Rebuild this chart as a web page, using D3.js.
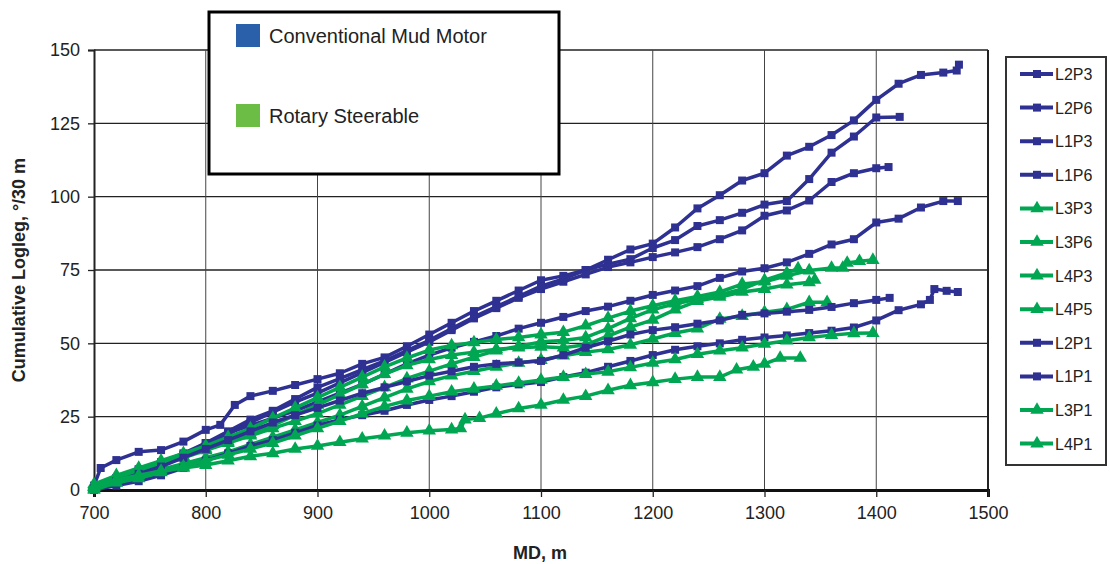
<!DOCTYPE html>
<html>
<head>
<meta charset="utf-8">
<script src="https://cdn.jsdelivr.net/npm/d3@7"></script>
<style>
  body { margin: 0; background: #fff; }
  svg text { font-family: "Liberation Sans", Arial, sans-serif; fill: #222; }
</style>
</head>
<body>
<div class="chart"></div>
<script>
// series names, in legend order
var names = ["L2P3", "L2P6", "L1P3", "L1P6", "L3P3", "L3P6", "L4P3", "L4P5", "L2P1", "L1P1", "L3P1", "L4P1"];
var kinds = ["motor", "motor", "motor", "motor", "rss", "rss", "rss", "rss", "motor", "motor", "rss", "rss"];

// values: [MD m, cumulative dogleg]
var L2P3 = [[700,1.5],[706,7.5],[720,10.2],[740,13],[760,13.6],[780,16.5],[800,20.5],[813,22.2],[826,29],[840,32],[860,33.8],[880,35.8],[900,37.8],[920,39.8],[940,43],[960,45.2],[980,49],[1000,53],[1020,57],[1040,61],[1060,64.5],[1080,68],[1100,71.5],[1120,73],[1140,75],[1160,78.5],[1180,82],[1200,84],[1220,89.5],[1240,96],[1260,100.5],[1280,105.5],[1300,108],[1320,114],[1340,117],[1360,121],[1380,126],[1400,133],[1420,138.5],[1440,141.5],[1460,142.3],[1472,143],[1474,145]];
var L2P6 = [[700,0.5],[720,4],[740,7],[760,9],[780,12],[800,16],[820,20],[840,24],[860,27],[880,31],[900,35],[920,38],[940,41],[960,44],[980,47.5],[1000,51],[1020,55],[1040,59],[1060,62.5],[1080,66],[1100,69.5],[1120,72],[1140,75],[1160,77],[1180,78.7],[1200,82.5],[1220,85.2],[1240,90],[1260,92],[1280,94.5],[1300,97.3],[1320,98.5],[1340,106],[1360,115],[1380,120.5],[1400,127],[1421,127.2]];
var L1P3 = [[700,0],[720,3],[740,6],[760,8.5],[780,11.5],[800,15],[820,19],[840,23],[860,26.5],[880,30],[900,33],[920,36.5],[940,40],[960,43.5],[980,47],[1000,50.5],[1020,54.5],[1040,58.5],[1060,62],[1080,65.5],[1100,68.5],[1120,71],[1140,73.5],[1160,76],[1180,77.6],[1200,79.4],[1220,81],[1240,82.8],[1260,85.5],[1280,88.5],[1300,93.5],[1320,95.3],[1340,98.7],[1360,105],[1380,108],[1400,109.7],[1411,110.1]];
var L1P6 = [[700,1],[720,4],[740,7],[760,9.5],[780,12.5],[800,16],[820,19.5],[840,22],[860,24.5],[880,27],[900,30],[920,33],[940,36],[960,39.5],[980,43],[1000,46],[1020,48.5],[1040,50.5],[1060,52.5],[1080,55],[1100,57],[1120,59],[1140,61],[1160,62.5],[1180,64.5],[1200,66.5],[1220,68],[1240,69.5],[1260,72.3],[1280,74.5],[1300,75.6],[1320,77.6],[1340,80.5],[1360,83.7],[1380,85.5],[1400,91.2],[1420,92.5],[1440,96.3],[1460,98.5],[1473,98.5]];
var L3P3 = [[700,2],[720,5],[740,7.5],[760,10],[780,12.5],[800,15],[820,18],[840,21],[860,24.5],[880,28],[900,31.5],[920,35],[940,38.5],[960,42],[980,45],[1000,47.7],[1020,49.3],[1040,50.3],[1060,51.3],[1080,52],[1100,53],[1120,53.8],[1140,56],[1160,58.6],[1180,61],[1200,62.8],[1220,64.5],[1240,66],[1260,67.5],[1280,70.2],[1300,71],[1320,73],[1340,74.8],[1360,75.7],[1370,75.7],[1374,77.4],[1385,78],[1397,78.4]];
var L3P6 = [[700,1],[720,4],[740,6.5],[760,9],[780,11.5],[800,14],[820,16.5],[840,19],[860,22],[880,25.5],[900,29],[920,32.5],[940,36],[960,39.5],[980,42.5],[1000,44.5],[1020,46],[1040,47],[1060,48],[1080,48.5],[1100,48.8],[1120,48.5],[1140,49.5],[1160,52.5],[1180,55.5],[1200,58],[1220,61.5],[1240,64.4],[1260,65.8],[1280,67.5],[1300,68.5],[1320,70],[1340,70.8],[1345,71.6]];
var L4P3 = [[700,1.5],[720,4.5],[740,7],[760,9],[780,11],[800,13.5],[820,16],[840,18.5],[860,21],[880,23.5],[900,26],[920,29],[940,32],[960,35],[980,38],[1000,40.5],[1020,43],[1040,45.3],[1060,47.5],[1080,49],[1100,50.5],[1120,51],[1140,52],[1160,55],[1180,58.5],[1200,61.5],[1220,63.5],[1240,65],[1260,66.5],[1280,68.5],[1300,71.5],[1320,74],[1330,75.5]];
var L4P5 = [[700,0.5],[720,2.5],[740,5],[760,7],[780,9],[800,11],[820,13],[840,15.5],[860,18],[880,20.5],[900,23],[920,25.5],[940,28.5],[960,31.5],[980,34.5],[1000,37],[1020,39],[1040,40.5],[1060,42],[1080,43.3],[1100,44.3],[1120,45.8],[1140,47],[1160,47.9],[1180,49.5],[1200,51.5],[1220,53.5],[1240,55],[1260,58.3],[1280,59.3],[1300,60.6],[1320,61.6],[1340,64],[1356,64]];
var L2P1 = [[700,0],[720,1.5],[740,3],[760,5],[780,7.5],[800,10],[820,12.5],[840,15],[860,17],[880,19.5],[900,22],[920,24],[940,25.5],[960,27],[980,29],[1000,30.7],[1020,32],[1040,33.5],[1060,35],[1080,36],[1100,36.8],[1120,38.5],[1140,40],[1160,42],[1180,44],[1200,46],[1220,47.8],[1240,49],[1260,50],[1280,51.2],[1300,52],[1320,52.7],[1340,53.5],[1360,54.3],[1380,55.4],[1400,57.8],[1420,61.3],[1440,63.3],[1448,64.8],[1452,68.5],[1463,67.9],[1473,67.5]];
var L1P1 = [[700,0.5],[720,3],[740,5.5],[760,8],[780,11],[800,14],[820,17],[840,20],[860,23],[880,25.5],[900,28],[920,30.5],[940,33],[960,35],[980,37],[1000,39],[1020,40.5],[1040,42],[1060,43],[1080,43.5],[1100,44],[1120,46],[1140,48.5],[1160,50.7],[1180,53],[1200,54.5],[1220,55.5],[1240,56.7],[1260,57.8],[1280,59.7],[1300,60.2],[1320,60.8],[1340,61.4],[1360,62.4],[1380,63.7],[1400,64.8],[1412,65.5]];
var L3P1 = [[700,0],[720,2.5],[740,4],[760,6],[780,8],[800,10],[820,12],[840,14],[860,16],[880,18.5],[900,21],[920,23.5],[940,26],[960,28.5],[980,30.5],[1000,32],[1020,33.5],[1040,34.5],[1060,35.5],[1080,36.5],[1100,37.5],[1120,38.5],[1140,39.5],[1160,40.3],[1180,41.8],[1200,43.3],[1220,44.5],[1240,46.3],[1260,47.5],[1280,48.5],[1300,49.8],[1320,50.9],[1340,52],[1360,52.8],[1380,53.4],[1397,53.5]];
var L4P1 = [[700,1],[720,3.5],[740,5],[760,6.5],[780,7.5],[800,8.5],[820,10],[840,11.5],[860,12.5],[880,14],[900,15],[920,16.3],[940,17.5],[960,18.5],[980,19.5],[1000,20.2],[1020,20.6],[1028,21],[1032,24],[1045,24.5],[1060,26],[1080,27.8],[1100,29],[1120,30.7],[1140,32],[1160,34],[1180,35.7],[1200,36.7],[1220,37.8],[1240,38.5],[1260,38.5],[1275,41],[1290,42],[1300,43],[1314,45],[1332,45]];

var seriesValues = [L2P3, L2P6, L1P3, L1P6, L3P3, L3P6, L4P3, L4P5, L2P1, L1P1, L3P1, L4P1];

var xTicks = [700, 800, 900, 1000, 1100, 1200, 1300, 1400, 1500];
var yTicks = [0, 25, 50, 75, 100, 125, 150];
var groupLabels = ["Conventional Mud Motor", "Rotary Steerable"];

var lineColor = {motor: "#2e3192", rss: "#00a651"};
var boxColor = ["#2a5faa", "#6cbd45"];

var margin = {top: 50, right: 122, bottom: 74, left: 94},
    width = 1110 - margin.left - margin.right,
    height = 564 - margin.top - margin.bottom;

var svg = d3.select(".chart").append("svg")
    .attr("width", 1110)
    .attr("height", 564);

var g = svg.append("g")
    .attr("transform", "translate(" + margin.left + "," + margin.top + ")");

var x = d3.scaleLinear().domain([700, 1500]).range([0, width]);
var y = d3.scaleLinear().domain([0, 150]).range([height, 0]);

// grid
g.selectAll(".hgrid").data(yTicks).enter().append("line")
    .attr("x1", 0).attr("x2", width)
    .attr("y1", function (d) { return y(d); })
    .attr("y2", function (d) { return y(d); })
    .attr("stroke", "#222").attr("stroke-width", 1.3);
g.selectAll(".vgrid").data(xTicks.slice(1)).enter().append("line")
    .attr("y1", 0).attr("y2", height)
    .attr("x1", function (d) { return x(d); })
    .attr("x2", function (d) { return x(d); })
    .attr("stroke", "#444").attr("stroke-width", 1);
// right border a bit darker
g.append("line").attr("x1", width).attr("x2", width).attr("y1", 0).attr("y2", height)
    .attr("stroke", "#222").attr("stroke-width", 2);

// axes
var axisX = g.append("g").attr("transform", "translate(0," + height + ")")
    .call(d3.axisBottom(x).tickValues(xTicks).tickFormat(d3.format("d")).tickSize(7).tickPadding(9));
var axisY = g.append("g")
    .call(d3.axisLeft(y).tickValues(yTicks).tickSize(6).tickPadding(8));
axisX.select(".domain").attr("stroke", "#111").attr("stroke-width", 3);
axisY.select(".domain").attr("stroke", "#222").attr("stroke-width", 2);
[axisX, axisY].forEach(function (a) {
    a.selectAll("text").style("font-size", "18px").style("font-family", "Liberation Sans, Arial, sans-serif").attr("fill", "#222");
    a.selectAll(".tick line").attr("stroke", "#222").attr("stroke-width", 1.3);
});

// lines
var valueline = d3.line()
    .x(function (d) { return x(d[0]); })
    .y(function (d) { return y(d[1]); });

var sq = d3.symbol().type(d3.symbolSquare).size(64);
var tri = d3.symbol().type(d3.symbolTriangle).size(78);

seriesValues.forEach(function (vals, i) {
    var k = kinds[i];
    var s = g.append("g").attr("class", "series " + names[i]);
    s.append("path")
        .datum(vals)
        .attr("fill", "none")
        .attr("stroke", lineColor[k])
        .attr("stroke-width", 3.5)
        .attr("stroke-linejoin", "round")
        .attr("d", valueline);
    s.selectAll(".pt").data(vals).enter().append("path")
        .attr("d", k == "motor" ? sq : tri)
        .attr("fill", lineColor[k])
        .attr("transform", function (d) {
            return "translate(" + x(d[0]) + "," + y(d[1]) + ")";
        });
});

// axis titles
svg.append("text")
    .attr("transform", "translate(25," + (margin.top + height / 2) + ") rotate(-90)")
    .attr("text-anchor", "middle")
    .style("font-size", "18px").style("font-weight", "bold")
    .text("Cumulative Logleg, °/30 m");
svg.append("text")
    .attr("x", margin.left + x(1100) - 1).attr("y", 559)
    .attr("text-anchor", "middle")
    .style("font-size", "18px").style("font-weight", "bold")
    .text("MD, m");

// group legend box
var lg = svg.append("g");
lg.append("rect").attr("x", 209).attr("y", 12).attr("width", 350).attr("height", 162)
    .attr("fill", "#fff").attr("stroke", "#000").attr("stroke-width", 3);
groupLabels.forEach(function (t, i) {
    lg.append("rect").attr("x", 236).attr("y", 24 + i * 80).attr("width", 24).attr("height", 23)
        .attr("fill", boxColor[i]);
    lg.append("text").attr("x", 269).attr("y", 43 + i * 80)
        .style("font-size", "20px").text(t);
});

// series legend
var sl = svg.append("g");
sl.append("rect").attr("x", 1006).attr("y", 57).attr("width", 100).attr("height", 408)
    .attr("fill", "#fff").attr("stroke", "#333").attr("stroke-width", 2);
names.forEach(function (n, i) {
    var yy = 74 + i * 33.6;
    var c = lineColor[kinds[i]];
    sl.append("line").attr("x1", 1020).attr("x2", 1053).attr("y1", yy).attr("y2", yy)
        .attr("stroke", c).attr("stroke-width", 4);
    sl.append("path").attr("d", kinds[i] == "motor" ? sq : tri)
        .attr("fill", c).attr("transform", "translate(1037," + yy + ")");
    sl.append("text").attr("x", 1055).attr("y", yy + 6)
        .style("font-size", "16px").text(n);
});
</script>
</body>
</html>
